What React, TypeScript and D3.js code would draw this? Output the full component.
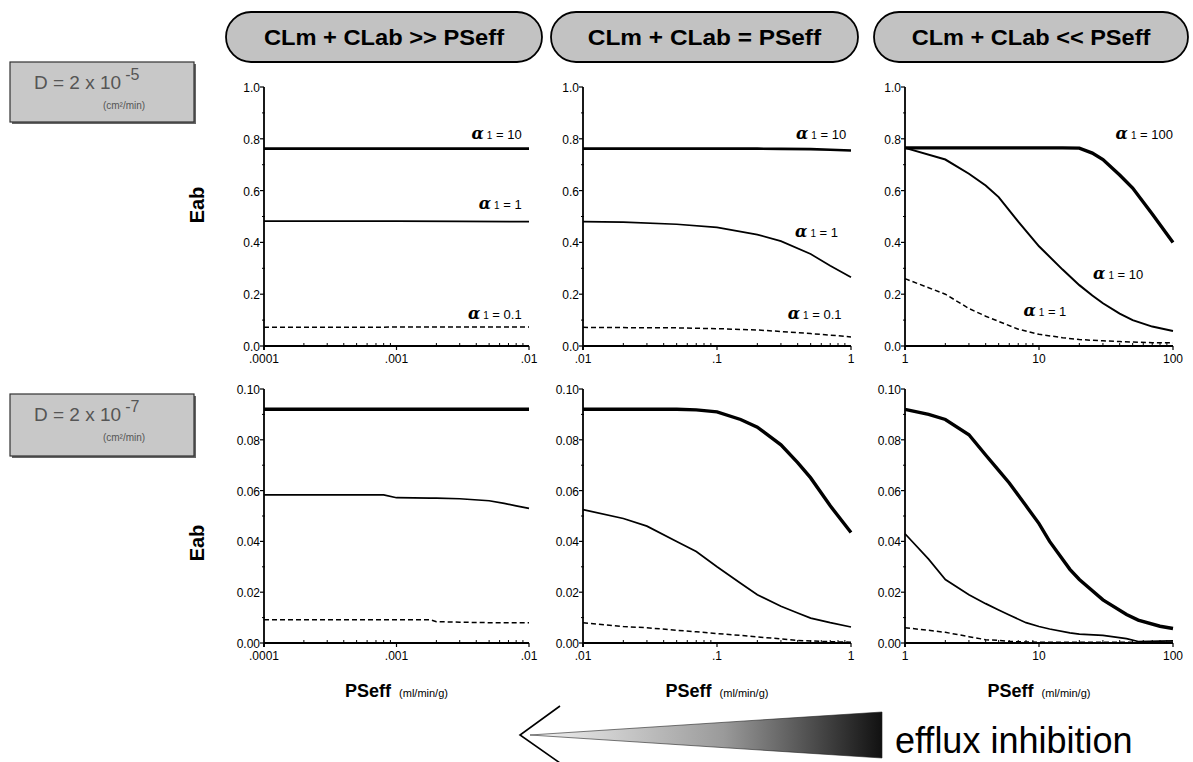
import * as d3 from "d3";

// column set-up
const colHeaders = ["CLm + CLab >> PSeff", "CLm + CLab = PSeff", "CLm + CLab << PSeff"];
const xDomains: [number, number][] = [[0.0001, 0.01], [0.01, 1], [1, 100]];
const xTickValues = [[0.0001, 0.001, 0.01], [0.01, 0.1, 1], [1, 10, 100]];
const xTickLabels = [[".0001", ".001", ".01"], [".01", ".1", "1"], ["1", "10", "100"]];

// row set-up
const rowExponents = ["-5", "-7"];
const topYTicks = [0, 0.2, 0.4, 0.6, 0.8, 1.0];
const topYLabels = ["0.0", "0.2", "0.4", "0.6", "0.8", "1.0"];
const bottomYTicks = [0, 0.02, 0.04, 0.06, 0.08, 0.1];
const bottomYLabels = ["0.00", "0.02", "0.04", "0.06", "0.08", "0.10"];

// D = 2x10^-5, PSeff .0001 - .01
const topAX = [0.0001, 0.0003, 0.001, 0.003, 0.01];
const topAThick = [0.762, 0.762, 0.762, 0.762, 0.762];
const topASolid = [0.482, 0.482, 0.482, 0.481, 0.48];
const topADashed = [0.072, 0.072, 0.073, 0.073, 0.073];

// D = 2x10^-5, PSeff .01 - 1
const topBX = [0.01, 0.02, 0.05, 0.1, 0.2, 0.3, 0.5, 0.7, 1];
const topBThick = [0.762, 0.762, 0.762, 0.762, 0.762, 0.761, 0.76, 0.758, 0.755];
const topBSolid = [0.48, 0.478, 0.47, 0.458, 0.43, 0.405, 0.355, 0.31, 0.265];
const topBDashed = [0.072, 0.071, 0.07, 0.067, 0.062, 0.056, 0.048, 0.042, 0.035];

// D = 2x10^-5, PSeff 1 - 100
const topCX = [1, 2, 3, 4, 5, 7, 10, 15, 20, 25, 30, 40, 50, 70, 100];
const topCThick = [0.765, 0.765, 0.765, 0.765, 0.765, 0.765, 0.765, 0.765, 0.764, 0.745, 0.72, 0.66, 0.61, 0.51, 0.4];
const topCSolid = [0.765, 0.72, 0.665, 0.62, 0.575, 0.48, 0.385, 0.295, 0.235, 0.195, 0.165, 0.125, 0.1, 0.075, 0.058];
const topCDashed = [0.26, 0.2, 0.145, 0.115, 0.095, 0.065, 0.045, 0.032, 0.025, 0.022, 0.02, 0.017, 0.015, 0.013, 0.012];

// D = 2x10^-7, PSeff .0001 - .01
const botAX = [0.0001, 0.0008, 0.001, 0.0018, 0.002, 0.003, 0.005, 0.0065, 0.008, 0.01];
const botAThick = [0.092, 0.092, 0.092, 0.092, 0.092, 0.092, 0.092, 0.092, 0.092, 0.092];
const botASolid = [0.0583, 0.0583, 0.0572, 0.057, 0.057, 0.0568, 0.056, 0.055, 0.054, 0.053];
const botADashed = [0.0092, 0.0092, 0.0092, 0.0092, 0.0084, 0.0082, 0.008, 0.008, 0.008, 0.008];

// D = 2x10^-7, PSeff .01 - 1
const botBX = [0.01, 0.02, 0.03, 0.05, 0.07, 0.1, 0.15, 0.2, 0.3, 0.4, 0.5, 0.7, 1];
const botBThick = [0.092, 0.092, 0.092, 0.092, 0.0918, 0.091, 0.088, 0.085, 0.078, 0.071, 0.065, 0.054, 0.0435];
const botBSolid = [0.0525, 0.049, 0.046, 0.04, 0.036, 0.03, 0.0235, 0.019, 0.0145, 0.0118, 0.0098, 0.008, 0.0063];
const botBDashed = [0.008, 0.0065, 0.006, 0.005, 0.0044, 0.0037, 0.003, 0.0024, 0.0016, 0.001, 0.0008, 0.0005, 0.0003];

// D = 2x10^-7, PSeff 1 - 100
const botCX = [1, 1.5, 2, 3, 4, 5, 6, 8, 10, 12, 17, 20, 30, 45, 55, 80, 100];
const botCThick = [0.092, 0.09, 0.088, 0.082, 0.074, 0.068, 0.063, 0.054, 0.047, 0.04, 0.029, 0.025, 0.017, 0.0112, 0.009, 0.0066, 0.0057];
const botCSolid = [0.043, 0.033, 0.025, 0.019, 0.0155, 0.013, 0.011, 0.008, 0.0065, 0.0055, 0.004, 0.0035, 0.003, 0.0017, 0.0006, 0.0007, 0.0008];
const botCDashed = [0.006, 0.005, 0.0042, 0.0025, 0.0013, 0.001, 0.0006, 0.0004, 0.0003, 0.0003, 0.0003, 0.0003, 0.0003, 0.0003, 0.0003, 0.0003, 0.0003];

const topPanels = [
  { x: topAX, thick: topAThick, solid: topASolid, dashed: topADashed },
  { x: topBX, thick: topBThick, solid: topBSolid, dashed: topBDashed },
  { x: topCX, thick: topCThick, solid: topCSolid, dashed: topCDashed },
];
const botPanels = [
  { x: botAX, thick: botAThick, solid: botASolid, dashed: botADashed },
  { x: botBX, thick: botBThick, solid: botBSolid, dashed: botBDashed },
  { x: botCX, thick: botCThick, solid: botCSolid, dashed: botCDashed },
];

// alpha1 curve labels (top row only): value, right end x, baseline y
const alphaValues = [["10", "1", "0.1"], ["10", "1", "0.1"], ["100", "10", "1"]];
const alphaEndX = [[0.0088, 0.0088, 0.0088], [0.92, 0.8, 0.85], [100, 60, 16]];
const alphaBaseY = [[0.8, 0.53, 0.105], [0.8, 0.42, 0.105], [0.8, 0.26, 0.115]];

const W = 1193;
const H = 762;
const colX: [number, number][] = [[264, 529], [583, 851], [905, 1173]];
const rowY: [number, number][] = [[346, 87], [643, 389]];
const font = "'Liberation Sans', Arial, Helvetica, sans-serif";
const narrow = "'Liberation Sans Narrow', 'Liberation Sans', Arial, sans-serif";

function AlphaLabel({ x, y, v }: { x: number; y: number; v: string }) {
  return (
    <text x={x} y={y} textAnchor="end" fontFamily={font} fill="#000">
      <tspan fontFamily="'DejaVu Serif', serif" fontStyle="italic" fontWeight="bold" fontSize={16}>α</tspan>
      <tspan fontSize={10} dx={3}>1</tspan>
      <tspan fontSize={13}>{" = " + v}</tspan>
    </text>
  );
}

function Panel({ row, col }: { row: number; col: number }) {
  const [x0, x1] = colX[col];
  const [yb, yt] = rowY[row];
  const x = d3.scaleLog().domain(xDomains[col]).range([x0, x1]);
  const y = d3.scaleLinear().domain(row === 0 ? [0, 1] : [0, 0.1]).range([yb, yt]);
  const data = row === 0 ? topPanels[col] : botPanels[col];
  const ticks = row === 0 ? topYTicks : bottomYTicks;
  const tickLabels = row === 0 ? topYLabels : bottomYLabels;
  const minorStep = row === 0 ? 0.1 : 0.01;
  const minorY = d3.range(1, 10, 2).map((i) => i * minorStep);
  const minorX = x.ticks().filter((t) => !xTickValues[col].some((m) => Math.abs(m - t) < m * 1e-6));
  const line = (vals: number[]) =>
    d3
      .line<number>()
      .x((_, i) => x(data.x[i]))
      .y((d) => y(d))(vals) as string;

  return (
    <g>
      {/* curves */}
      <path d={line(data.thick)} fill="none" stroke="#000" strokeWidth={row === 0 && col < 2 ? 2.6 : 3.4} />
      <path d={line(data.solid)} fill="none" stroke="#000" strokeWidth={row === 0 && col === 2 ? 2 : 1.7} />
      <path d={line(data.dashed)} fill="none" stroke="#000" strokeWidth={1.5} strokeDasharray="5,3" />
      {/* axes */}
      <line x1={x0} x2={x0} y1={yt} y2={yb + 4} stroke="#000" strokeWidth={1.8} />
      <line x1={x0} x2={x1} y1={yb} y2={yb} stroke="#000" strokeWidth={1.8} />
      {ticks.map((t, i) => (
        <g key={t}>
          <line x1={x0 - 4} x2={x0} y1={y(t)} y2={y(t)} stroke="#000" strokeWidth={1.2} />
          <text x={x0 - 4} y={y(t) + 5} textAnchor="end" fontFamily={font} fontSize={12}>
            {tickLabels[i]}
          </text>
        </g>
      ))}
      {minorY.map((t) => (
        <line key={t} x1={x0 - 2} x2={x0 + 1} y1={y(t)} y2={y(t)} stroke="#000" strokeWidth={1} />
      ))}
      {xTickValues[col].map((t, i) => (
        <g key={t}>
          <line x1={x(t)} x2={x(t)} y1={yb} y2={yb + 4} stroke="#000" strokeWidth={1.2} />
          <text x={x(t)} y={yb + 17} textAnchor="middle" fontFamily={font} fontSize={12}>
            {xTickLabels[col][i]}
          </text>
        </g>
      ))}
      {minorX.map((t) => (
        <line key={t} x1={x(t)} x2={x(t)} y1={yb} y2={yb - 3} stroke="#000" strokeWidth={1} />
      ))}
      {row === 0 &&
        alphaValues[col].map((v, i) => (
          <AlphaLabel key={v} x={x(alphaEndX[col][i])} y={y(alphaBaseY[col][i])} v={v} />
        ))}
      {row === 1 && (
        <text x={(x0 + x1) / 2} y={697} textAnchor="middle" fontFamily={font}>
          <tspan fontWeight="bold" fontSize={18}>PSeff</tspan>
          <tspan fontSize={11} dx={8}>(ml/min/g)</tspan>
        </text>
      )}
    </g>
  );
}

const pillX: [number, number][] = [[226, 542], [551, 858], [874, 1188]];
const boxY: [number, number][] = [[62, 122], [394, 456]];

export default function App() {
  return (
    <svg width={W} height={H} style={{ position: "absolute", left: 0, top: 0, background: "#fff" }}>
      <defs>
        <linearGradient id="arrowGrad" x1="0" x2="1" y1="0" y2="0">
          <stop offset="0%" stopColor="#f4f4f4" />
          <stop offset="55%" stopColor="#9a9a9a" />
          <stop offset="100%" stopColor="#111" />
        </linearGradient>
      </defs>
      {pillX.map(([a, b], i) => (
        <g key={i}>
          <rect x={a} y={12} width={b - a} height={50} rx={25} fill="#c2c2c2" stroke="#000" strokeWidth={1.8} />
          <text
            x={(a + b) / 2}
            y={45}
            textAnchor="middle"
            fontFamily={narrow}
            fontWeight="bold"
            fontSize={22}
            textLength={(b - a) * 0.76}
            lengthAdjust="spacingAndGlyphs"
          >
            {colHeaders[i]}
          </text>
        </g>
      ))}
      {boxY.map(([a, b], i) => (
        <g key={i}>
          <rect x={12} y={a + 2} width={184} height={b - a} fill="#666" />
          <rect x={10} y={a} width={184} height={b - a} fill="#c8c8c8" stroke="#333" strokeWidth={1.2} />
          <text x={34} y={a + 27} fontFamily={font} fontSize={19} fill="#555">
            D = 2 x 10
            <tspan dx={4} dy={-9} fontSize={16}>{rowExponents[i]}</tspan>
          </text>
          <text x={124} y={a + 47} textAnchor="middle" fontFamily={font} fontSize={10} fill="#555">
            (cm²/min)
          </text>
        </g>
      ))}
      {[205, 543].map((cy, i) => (
        <text
          key={i}
          transform={`translate(204,${cy}) rotate(-90)`}
          textAnchor="middle"
          fontFamily={font}
          fontWeight="bold"
          fontSize={20}
        >
          Eab
        </text>
      ))}
      {[0, 1].map((r) => [0, 1, 2].map((c) => <Panel key={`${r}-${c}`} row={r} col={c} />))}
      {/* efflux inhibition arrow */}
      <polygon points="530,735 882,712 882,758" fill="url(#arrowGrad)" stroke="#222" strokeWidth={0.6} />
      <polyline points="560,706 520,735 560,763" fill="none" stroke="#000" strokeWidth={1.6} />
      <text x={895} y={753} fontFamily={font} fontSize={36}>
        efflux inhibition
      </text>
    </svg>
  );
}
